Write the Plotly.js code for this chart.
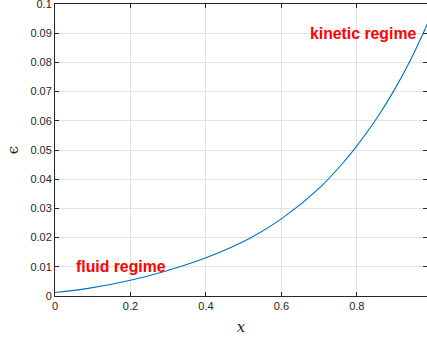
<!DOCTYPE html>
<html>
<head>
<meta charset="utf-8">
<script src="https://cdn.plot.ly/plotly-3.0.1.min.js"></script>
<style>
  html, body { margin: 0; padding: 0; background: #fff; }
  #chart { width: 427px; height: 343px; }
</style>
</head>
<body>
<div id="chart"></div>
<script>
// Perturbation parameter epsilon along x
const xValues = [0, 0.088, 0.2, 0.292, 0.4, 0.518, 0.6, 0.704, 0.77, 0.8, 0.855, 0.899, 0.943, 0.988];
const epsValues = [0.0012, 0.0026, 0.0054, 0.0085, 0.0131, 0.0199, 0.0264, 0.0374, 0.0466, 0.0514, 0.0613, 0.0705, 0.0810, 0.0934];

const xTicks = [0, 0.2, 0.4, 0.6, 0.8];
const xTickLabels = ['0', '0.2', '0.4', '0.6', '0.8'];
const yTicks = [0, 0.01, 0.02, 0.03, 0.04, 0.05, 0.06, 0.07, 0.08, 0.09, 0.1];
const yTickLabels = ['0', '0.01', '0.02', '0.03', '0.04', '0.05', '0.06', '0.07', '0.08', '0.09', '0.1'];

// Region labels: [text, x, y]
const regionLabels = [
  ['fluid regime', 0.05, 0.01],
  ['kinetic regime', 0.67, 0.09]
];

const axisColor = '#262626';
const tickFont = { family: 'Liberation Sans, Arial, sans-serif', size: 11, color: axisColor };

const trace = {
  x: xValues,
  y: epsValues,
  type: 'scatter',
  mode: 'lines',
  line: { color: '#0072BD', width: 1.1, shape: 'spline', smoothing: 1 },
  hoverinfo: 'skip'
};

const layout = {
  width: 427,
  height: 343,
  margin: { l: 55, r: 0, t: 4, b: 47 },
  paper_bgcolor: '#ffffff',
  plot_bgcolor: '#ffffff',
  showlegend: false,
  xaxis: {
    range: [0, 0.986],
    tickvals: xTicks,
    ticktext: xTickLabels,
    ticks: 'inside',
    ticklen: 4,
    tickcolor: axisColor,
    showline: true,
    linecolor: axisColor,
    linewidth: 1,
    mirror: 'ticks',
    showgrid: true,
    gridcolor: '#e3e3e3',
    gridwidth: 1,
    zeroline: false,
    tickfont: tickFont,
    ticklabeloverflow: 'allow',
    title: {
      text: 'x',
      font: { family: 'DejaVu Serif, serif', size: 15, color: axisColor, style: 'italic' },
      standoff: 10
    }
  },
  yaxis: {
    range: [0, 0.1],
    tickvals: yTicks,
    ticktext: yTickLabels,
    ticks: 'inside',
    ticklen: 4,
    tickcolor: axisColor,
    showline: true,
    linecolor: axisColor,
    linewidth: 1,
    mirror: 'ticks',
    showgrid: true,
    gridcolor: '#e3e3e3',
    gridwidth: 1,
    zeroline: false,
    tickfont: tickFont,
    ticklabeloverflow: 'allow',
    title: {
      text: 'ϵ',
      font: { family: 'DejaVu Serif, serif', size: 15, color: axisColor },
      standoff: 8
    }
  },
  annotations: regionLabels.map(([text, x, y]) => ({
    text: text,
    x: x,
    y: y,
    xref: 'x',
    yref: 'y',
    xanchor: 'left',
    yanchor: 'middle',
    showarrow: false,
    font: { family: 'Liberation Sans, Arial, sans-serif', size: 15.8, color: '#ff0000', weight: 'bold' }
  }))
};

Plotly.newPlot('chart', [trace], layout, { displayModeBar: false, staticPlot: true });
</script>
</body>
</html>
